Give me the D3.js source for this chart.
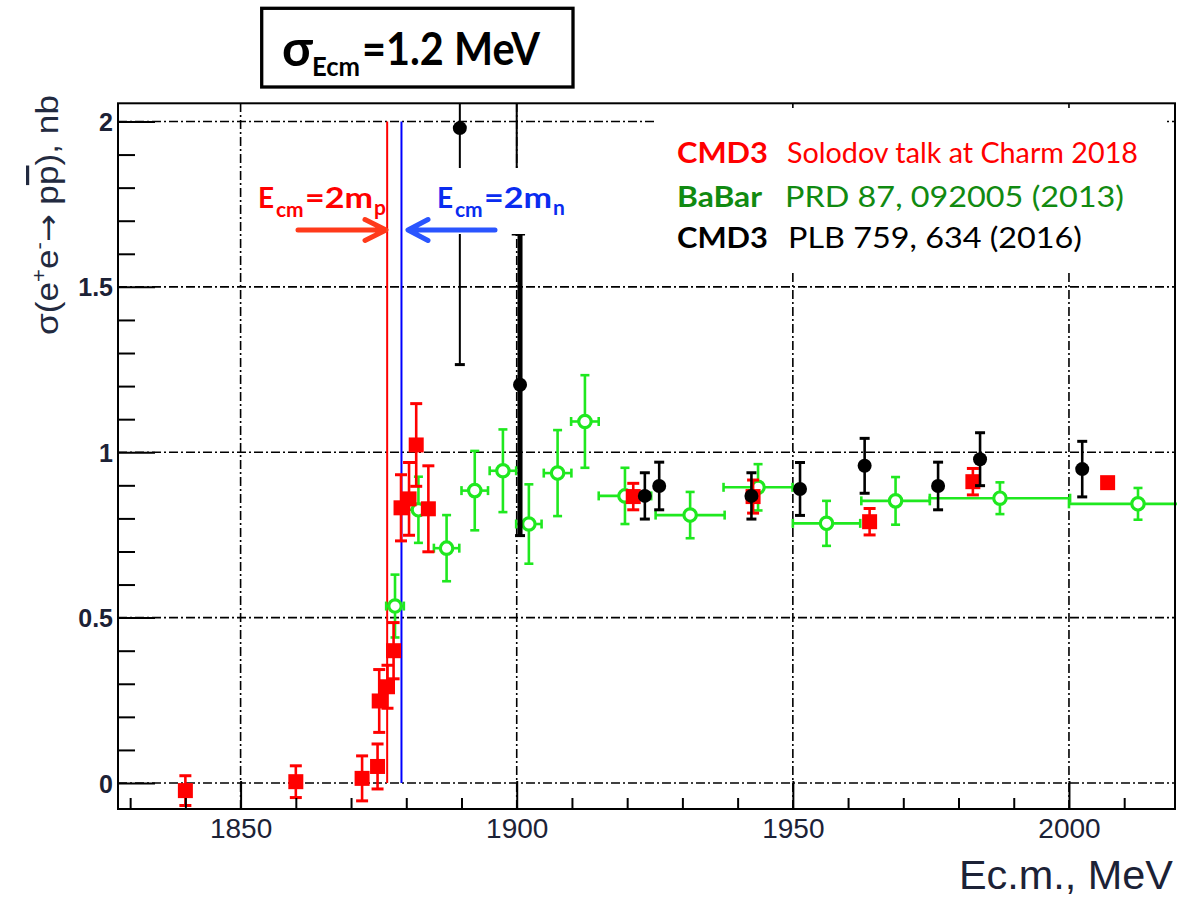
<!DOCTYPE html>
<html><head><meta charset="utf-8">
<script src="https://cdn.jsdelivr.net/npm/d3@7"></script>
<style>body{margin:0;background:#fff}svg{display:block}</style>
</head><body><svg id="c" width="1177" height="899"></svg>
<script>
// ---- axis ranges / ticks ----
const xDomain = [1827.8, 2019.2];
const yDomain = [-0.0786, 2.055];
const xMajorTicks = [1850, 1900, 1950, 2000];
const xMinorTicks = [1830, 1840, 1860, 1870, 1880, 1890, 1910, 1920, 1930, 1940, 1960, 1970, 1980, 1990, 2010];
const yMajorTicks = [0, 0.5, 1, 1.5, 2];
const yMinorTicks = [0.1,0.2,0.3,0.4,0.6,0.7,0.8,0.9,1.1,1.2,1.3,1.4,1.6,1.7,1.8,1.9];
const yTickLabels = ["0", "0.5", "1", "1.5", "2"];
const thresholdE = [1876.54, 1879.13]; // 2m_p, 2m_n

// ---- CMD3 (Solodov, Charm 2018) : red squares ----
const redE     = [1840, 1860, 1872.0, 1874.8, 1875.1, 1876.6, 1877.7, 1879.05, 1880.5, 1881.8, 1884.0, 1921.1, 1942.8, 1963.9, 1982.6, 2007.0];
const redSigma = [-0.023, 0.004, 0.014, 0.05, 0.248, 0.291, 0.40, 0.832, 0.859, 1.022, 0.829, 0.866, 0.866, 0.79, 0.911, 0.908];
const redErr   = [0.045, 0.048, 0.068, 0.068, 0.095, 0.065, 0.085, 0.10, 0.11, 0.125, 0.13, 0.04, 0.05, 0.04, 0.04, 0.015];

// ---- BaBar PRD 87 092005 (2013) : green open circles ----
const babarE     = [1877.96, 1882.2, 1887.3, 1892.4, 1897.5, 1902.2, 1907.4, 1912.35, 1919.6, 1931.4, 1943.7, 1956.1, 1968.6, 1987.5, 2012.5];
const babarSigma = [0.535, 0.826, 0.71, 0.884, 0.944, 0.783, 0.937, 1.093, 0.868, 0.81, 0.894, 0.785, 0.853, 0.861, 0.844];
const babarErr   = [0.095, 0.10, 0.10, 0.12, 0.125, 0.12, 0.13, 0.14, 0.085, 0.07, 0.07, 0.068, 0.072, 0.048, 0.048];
const babarHalfBin = [1.6, 2.3, 2.3, 2.4, 2.4, 2.3, 2.5, 2.5, 4.75, 6.25, 6.25, 6.1, 6.2, 12.7, 12.5];

// ---- CMD3 PLB 759, 634 (2016) : black circles ----
const cmdE     = [1889.7, 1900.0, 1900.6, 1923.2, 1925.8, 1942.5, 1951.3, 1963.0, 1976.3, 1983.9, 2002.4];
const cmdSigma = [1.98, 2.30, 1.204, 0.868, 0.898, 0.868, 0.889, 0.959, 0.898, 0.979, 0.949];
const cmdErr   = [0.715, 0.64, 0.456, 0.07, 0.072, 0.07, 0.08, 0.083, 0.072, 0.08, 0.084];

const W = 1177, H = 899;
const L = 118, R = 1175, T = 103.3, B = 809;
const svg = d3.select("#c");
const x = d3.scaleLinear().domain(xDomain).range([L, R]);
const y = d3.scaleLinear().domain(yDomain).range([B, T]);

const calibri = "Lato, 'Open Sans', 'Noto Sans', sans-serif";
const helv = "'Liberation Sans', Arial, sans-serif";
const axisCol = "#1c2236";

svg.append("defs").append("clipPath").attr("id", "clip")
  .append("rect").attr("x", 0).attr("y", T).attr("width", W).attr("height", B - T);

// ---- grid (dash-dot) ----
const grid = svg.append("g").attr("stroke", "#000").attr("stroke-width", 1.6)
  .attr("stroke-dasharray", "9,3,2,3").attr("fill", "none");
grid.selectAll(".gx").data(xMajorTicks).join("line")
  .attr("x1", d => x(d)).attr("x2", d => x(d)).attr("y1", B).attr("y2", T);
grid.selectAll(".gy").data(yMajorTicks).join("line")
  .attr("y1", d => y(d)).attr("y2", d => y(d)).attr("x1", L).attr("x2", R);

// ---- threshold lines ----
svg.selectAll(".thr").data(thresholdE).join("line")
  .attr("x1", d => x(d)).attr("x2", d => x(d))
  .attr("y1", y(0)).attr("y2", y(2))
  .attr("stroke", (d, i) => i === 0 ? "#ff0000" : "#0000ff").attr("stroke-width", 2);

// ---- data ----
const plot = svg.append("g").attr("clip-path", "url(#clip)");

// BaBar
const gB = plot.append("g").attr("stroke", "#1fe81f").attr("stroke-width", 2.6).attr("fill", "none");
babarE.forEach((e, i) => {
  const cx = x(e), cy = y(babarSigma[i]);
  const y1 = y(babarSigma[i] - babarErr[i]), y2 = y(babarSigma[i] + babarErr[i]);
  const x1 = x(e - babarHalfBin[i]), x2 = x(e + babarHalfBin[i]);
  const g = gB.append("g");
  g.append("line").attr("x1", cx).attr("x2", cx).attr("y1", y1).attr("y2", y2);
  g.append("line").attr("x1", cx - 4.5).attr("x2", cx + 4.5).attr("y1", y1).attr("y2", y1);
  g.append("line").attr("x1", cx - 4.5).attr("x2", cx + 4.5).attr("y1", y2).attr("y2", y2);
  g.append("line").attr("x1", x1).attr("x2", x2).attr("y1", cy).attr("y2", cy);
  g.append("line").attr("x1", x1).attr("x2", x1).attr("y1", cy - 4.5).attr("y2", cy + 4.5);
  g.append("line").attr("x1", x2).attr("x2", x2).attr("y1", cy - 4.5).attr("y2", cy + 4.5);
  g.append("circle").attr("cx", cx).attr("cy", cy).attr("r", 6.2).attr("fill", "#fff").attr("stroke-width", 3.2);
});

// CMD3 2018 red
const gR = plot.append("g").attr("stroke", "#ff0000").attr("stroke-width", 2.6);
redE.forEach((e, i) => {
  const cx = x(e), cy = y(redSigma[i]);
  const y1 = y(redSigma[i] - redErr[i]), y2 = y(redSigma[i] + redErr[i]);
  const g = gR.append("g");
  g.append("line").attr("x1", cx).attr("x2", cx).attr("y1", y1).attr("y2", y2);
  g.append("line").attr("x1", cx - 6).attr("x2", cx + 6).attr("y1", y1).attr("y2", y1).attr("stroke-width", 3);
  g.append("line").attr("x1", cx - 6).attr("x2", cx + 6).attr("y1", y2).attr("y2", y2).attr("stroke-width", 3);
  g.append("rect").attr("x", cx - 7.5).attr("y", cy - 7.5).attr("width", 15).attr("height", 15)
    .attr("fill", "#ff0000").attr("stroke", "none");
});

// CMD3 2016 black
const gK = plot.append("g").attr("stroke", "#000").attr("stroke-width", 2.4);
cmdE.forEach((e, i) => {
  const cx = x(e), cy = y(cmdSigma[i]);
  const y1 = y(cmdSigma[i] - cmdErr[i]), y2 = y(cmdSigma[i] + cmdErr[i]);
  const sw = cmdErr[i] > 0.4 && cmdSigma[i] < 1.5 ? 5 : (cmdErr[i] > 0.4 ? 2 : 2.6);
  const g = gK.append("g");
  g.append("line").attr("x1", cx).attr("x2", cx).attr("y1", y1).attr("y2", y2).attr("stroke-width", sw);
  g.append("line").attr("x1", cx - 5).attr("x2", cx + 5).attr("y1", y1).attr("y2", y1).attr("stroke-width", 3);
  g.append("line").attr("x1", cx - 5).attr("x2", cx + 5).attr("y1", y2).attr("y2", y2).attr("stroke-width", 3);
  g.append("circle").attr("cx", cx).attr("cy", cy).attr("r", 7).attr("fill", "#000").attr("stroke", "none");
});

// ---- white label backgrounds ----
svg.append("rect").attr("x", 655).attr("y", 108).attr("width", 512).attr("height", 164).attr("fill", "#fff");
svg.append("rect").attr("x", 405).attr("y", 168).attr("width", 160).attr("height", 66).attr("fill", "#fff");

// ---- axes ----
const ax = svg.append("g").attr("font-family", helv);
const xMaj = ax.append("g").attr("transform", `translate(0,${B})`)
  .call(d3.axisBottom(x).tickValues(xMajorTicks).tickSize(-28).tickPadding(9).tickFormat(d3.format("d")));
const xMin = ax.append("g").attr("transform", `translate(0,${B})`)
  .call(d3.axisBottom(x).tickValues(xMinorTicks).tickSize(-11).tickFormat(""));
const yMaj = ax.append("g").attr("transform", `translate(${L},0)`)
  .call(d3.axisLeft(y).tickValues(yMajorTicks).tickSize(-37).tickPadding(5).tickFormat((d, i) => yTickLabels[i]));
const yMin = ax.append("g").attr("transform", `translate(${L},0)`)
  .call(d3.axisLeft(y).tickValues(yMinorTicks).tickSize(-17).tickFormat(""));
[xMaj, xMin, yMaj, yMin].forEach(g => {
  g.select(".domain").remove();
  g.selectAll(".tick line").attr("stroke", "#000").attr("stroke-width", 2);
});
xMaj.selectAll("text").attr("font-size", 28).attr("fill", axisCol);
yMaj.selectAll("text").attr("font-size", 25).attr("font-weight", "bold").attr("fill", axisCol).attr("dy", "0.36em");

svg.append("rect").attr("x", L).attr("y", T).attr("width", R - L).attr("height", B - T)
  .attr("fill", "none").attr("stroke", "#000").attr("stroke-width", 2);

// axis titles
svg.append("text").attr("x", 1173).attr("y", 889).attr("text-anchor", "end")
  .attr("font-family", helv).attr("font-size", 41).attr("fill", axisCol)
  .attr("textLength", 214).attr("lengthAdjust", "spacingAndGlyphs").text("Ec.m., MeV");

const yl = svg.append("text").attr("transform", "translate(58,215) rotate(-90)")
  .attr("text-anchor", "middle").attr("font-family", helv).attr("font-size", 32).attr("fill", "#222a40")
  .attr("textLength", 240).attr("lengthAdjust", "spacingAndGlyphs");
yl.append("tspan").text("σ(e");
yl.append("tspan").attr("dy", -12).attr("font-size", 20).text("+");
yl.append("tspan").attr("dy", 12).text("e");
yl.append("tspan").attr("dy", -12).attr("font-size", 20).text("-");
yl.append("tspan").attr("dy", 12).attr("font-family", "'DejaVu Sans', sans-serif").attr("font-size", 30).text("→");
yl.append("tspan").text(" p");
yl.append("tspan").attr("text-decoration", "overline").text("p");
yl.append("tspan").text("), nb");

// ---- legend ----
const leg = [
  {b: "CMD3", n: "Solodov talk at Charm 2018", c: "#ff0000", y: 163, bl: 91, nx: 787, nl: 351},
  {b: "BaBar", n: "PRD 87, 092005 (2013)", c: "#118a11", y: 207, bl: 85, nx: 785, nl: 339},
  {b: "CMD3", n: "PLB 759, 634 (2016)", c: "#000000", y: 248, bl: 91, nx: 788, nl: 294}
];
leg.forEach(d => {
  svg.append("text").attr("x", 677).attr("y", d.y).attr("font-family", calibri).attr("font-size", 29)
    .attr("font-weight", "bold").attr("fill", d.c).attr("textLength", d.bl).attr("lengthAdjust", "spacingAndGlyphs").text(d.b);
  svg.append("text").attr("x", d.nx).attr("y", d.y).attr("font-family", calibri).attr("font-size", 29)
    .attr("fill", d.c).attr("textLength", d.nl).attr("lengthAdjust", "spacingAndGlyphs").text(d.n);
});

// ---- threshold labels & arrows ----
function eLabel(x0, col, sub) {
  const g = svg.append("g").attr("font-family", calibri).attr("font-weight", "bold").attr("fill", col);
  g.append("text").attr("x", x0).attr("y", 208).attr("font-size", 28).text("E");
  g.append("text").attr("x", x0 + 18).attr("y", 217).attr("font-size", 21).text("cm");
  g.append("text").attr("x", x0 + 47).attr("y", 208).attr("font-size", 28)
    .attr("textLength", 68).attr("lengthAdjust", "spacingAndGlyphs").text("=2m");
  g.append("text").attr("x", x0 + 116).attr("y", 215).attr("font-size", 21).text(sub);
}
eLabel(258, "#ff0000", "p");
eLabel(437, "#0a2cf0", "n");
svg.append("path").attr("d", "M298,230 L384,230 M365,219.5 L386,230 L365,240.5")
  .attr("fill", "none").attr("stroke", "#ff3a1a").attr("stroke-width", 5).attr("stroke-linecap", "round").attr("stroke-linejoin", "round");
svg.append("path").attr("d", "M495,230 L410,230 M428,219.5 L408,230 L428,240.5")
  .attr("fill", "none").attr("stroke", "#2a55ff").attr("stroke-width", 5).attr("stroke-linecap", "round").attr("stroke-linejoin", "round");

// ---- resolution box ----
svg.append("rect").attr("x", 261.7).attr("y", 8.3).attr("width", 311.3).attr("height", 78.7)
  .attr("fill", "#fff").attr("stroke", "#000").attr("stroke-width", 3.3);
const bx = svg.append("g").attr("font-family", calibri).attr("font-weight", "bold").attr("fill", "#000");
bx.append("text").attr("x", 282).attr("y", 66).attr("font-size", 50).text("σ");
bx.append("text").attr("x", 312).attr("y", 76).attr("font-size", 26).attr("textLength", 48).attr("lengthAdjust", "spacingAndGlyphs").text("Ecm");
bx.append("text").attr("x", 362).attr("y", 65).attr("font-size", 46).attr("textLength", 178).attr("lengthAdjust", "spacingAndGlyphs").text("=1.2 MeV");
</script></body></html>
